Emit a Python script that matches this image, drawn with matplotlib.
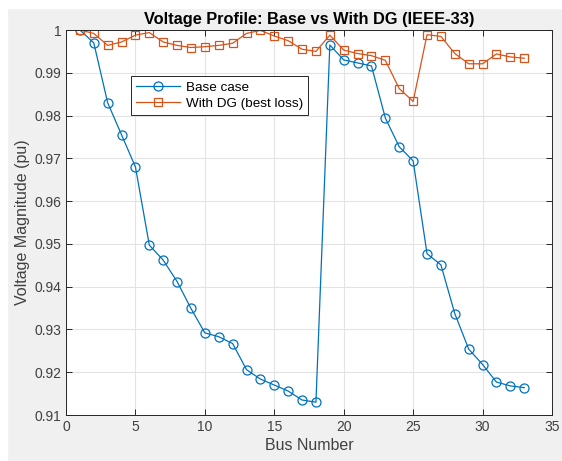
import numpy as np
import matplotlib.pyplot as plt
from matplotlib.patches import Rectangle

# bus voltages (pu), IEEE-33
bus = list(range(1, 34))
v_base = [1.0, 0.9970, 0.9830, 0.9755, 0.9680, 0.9497, 0.9462, 0.9412, 0.9349, 0.9292,
          0.9283, 0.9267, 0.9206, 0.9184, 0.9170, 0.9156, 0.9135, 0.9130, 0.9965, 0.9930,
          0.9923, 0.9916, 0.9794, 0.9727, 0.9694, 0.9477, 0.9451, 0.9337, 0.9254, 0.9218,
          0.9177, 0.9168, 0.9164]
v_dg = [1.0, 0.9992, 0.9964, 0.9972, 0.9988, 0.9994, 0.9972, 0.9964, 0.9959, 0.9961,
        0.9964, 0.9969, 0.9992, 0.9999, 0.9986, 0.9975, 0.9955, 0.9950, 0.9988, 0.9953,
        0.9945, 0.9940, 0.9929, 0.9863, 0.9833, 0.9989, 0.9985, 0.9945, 0.9921, 0.9921,
        0.9944, 0.9937, 0.9934]
xticks = [0, 5, 10, 15, 20, 25, 30, 35]
yticks = [0.91, 0.92, 0.93, 0.94, 0.95, 0.96, 0.97, 0.98, 0.99, 1.0]
ytick_labels = ['0.91', '0.92', '0.93', '0.94', '0.95', '0.96', '0.97', '0.98', '0.99', '1']

plt.rcParams['font.family'] = ['Liberation Sans', 'DejaVu Sans']

fig = plt.figure(figsize=(5.62, 4.61), dpi=100, facecolor='#f0f0f0')
# white screenshot border on left/top
fig.patches.append(Rectangle((0, 0), 7/562, 1, transform=fig.transFigure, color='white', zorder=-10))
fig.patches.append(Rectangle((0, 1-8/461), 1, 8/461, transform=fig.transFigure, color='white', zorder=-10))

ax = fig.add_axes([66/562, 46/461, 486/562, 385/461])
ax.plot(bus, v_base, '-o', color='#0072BD', lw=0.9, ms=6.5, mfc='none', mew=0.9, label='Base case')
ax.plot(bus, v_dg, '-s', color='#D95319', lw=0.9, ms=5.2, mfc='none', mew=0.9, label='With DG (best loss)')

ax.set_xlim(0, 35)
ax.set_ylim(0.91, 1.0)
ax.set_xticks(xticks)
ax.set_yticks(yticks)
ax.set_yticklabels(ytick_labels)
ax.grid(True, color='#e3e3e3', lw=0.8)
ax.set_axisbelow(True)
ax.tick_params(direction='in', length=4, width=0.7, colors='#262626', labelsize=10, labelcolor='#404040')
ax.tick_params(top=True, right=True)
for s in ax.spines.values():
    s.set_color('#262626')
    s.set_linewidth(0.7)

ax.set_xlabel('Bus Number', fontsize=11.5, color='#404040', labelpad=3)
ax.set_ylabel('Voltage Magnitude (pu)', fontsize=11.5, color='#404040', labelpad=3)
ax.set_title('Voltage Profile: Base vs With DG (IEEE-33)', fontsize=11.8, fontweight='bold', pad=4)

leg = ax.legend(loc='upper left', bbox_to_anchor=(0.12, 0.897), fontsize=9.7, fancybox=False,
                edgecolor='#262626', framealpha=1, handlelength=3.3, borderpad=0.35,
                labelspacing=0.3, handletextpad=0.4)
leg.get_frame().set_linewidth(0.7)

plt.savefig('out.png', dpi=100, facecolor=fig.get_facecolor())
